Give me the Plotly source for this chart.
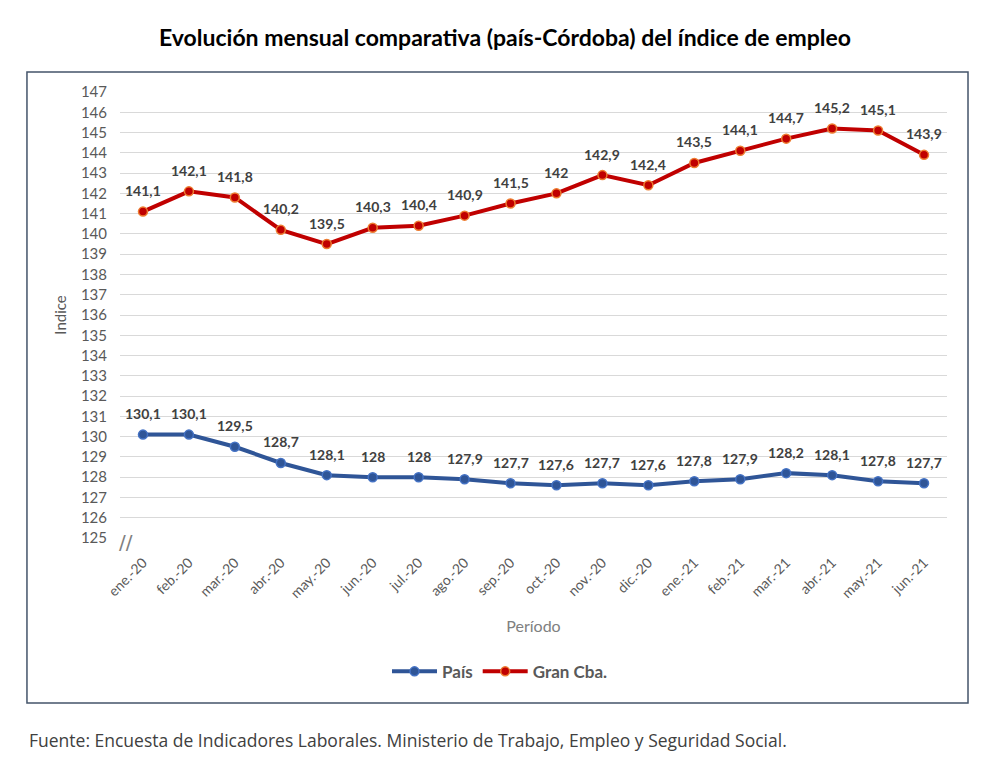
import plotly.graph_objects as go

categories = ["ene.-20", "feb.-20", "mar.-20", "abr.-20", "may.-20", "jun.-20", "jul.-20",
              "ago.-20", "sep.-20", "oct.-20", "nov.-20", "dic.-20", "ene.-21", "feb.-21",
              "mar.-21", "abr.-21", "may.-21", "jun.-21"]
pais = [130.1, 130.1, 129.5, 128.7, 128.1, 128, 128, 127.9, 127.7, 127.6, 127.7, 127.6,
        127.8, 127.9, 128.2, 128.1, 127.8, 127.7]
gran_cba = [141.1, 142.1, 141.8, 140.2, 139.5, 140.3, 140.4, 140.9, 141.5, 142, 142.9, 142.4,
            143.5, 144.1, 144.7, 145.2, 145.1, 143.9]
y_ticks = list(range(125, 148))


def fmt(v):
    s = ("%g" % v)
    return s.replace(".", ",")


FONT = "Lato"
fig = go.Figure()
fig.add_trace(go.Scatter(
    x=categories, y=pais, name="País", mode="lines+markers",
    line=dict(color="#2F5597", width=4),
    marker=dict(size=9, color="#2F5597", line=dict(color="#4472C4", width=1.5)),
))
fig.add_trace(go.Scatter(
    x=categories, y=gran_cba, name="Gran Cba.", mode="lines+markers",
    line=dict(color="#C00000", width=4),
    marker=dict(size=9, color="#C00000", line=dict(color="#ED7D31", width=1.5)),
))

annotations = []
for series in (pais, gran_cba):
    for c, v in zip(categories, series):
        annotations.append(dict(x=c, y=v, xref="x", yref="y", text=fmt(v), showarrow=False,
                                yshift=21, font=dict(family=FONT, size=14, color="#404040",
                                                     weight="bold")))
# axis break mark
annotations.append(dict(x=0, y=125, xref="paper", yref="y", text="//", showarrow=False,
                        xshift=-3, yshift=-4, font=dict(family="DejaVu Sans", size=20, color="#808080")))
# footer
annotations.append(dict(x=0, y=0, xref="paper", yref="paper", xanchor="left", yanchor="middle",
                        xshift=-93, yshift=-202, showarrow=False,
                        text="Fuente: Encuesta de Indicadores Laborales. Ministerio de Trabajo, Empleo y Seguridad Social.",
                        font=dict(family="Open Sans", size=17.5, color="#404040")))

fig.update_layout(
    width=1000, height=769,
    margin=dict(l=120, r=53, t=92, b=231),
    paper_bgcolor="white", plot_bgcolor="white",
    title=dict(text="<b>Evolución mensual comparativa (país-Córdoba) del índice de empleo</b>",
               x=0.505, xanchor="center", y=0.951, yanchor="middle",
               font=dict(family=FONT, size=23, color="black")),
    font=dict(family=FONT, color="#595959"),
    showlegend=True,
    legend=dict(orientation="h", x=0.4595, xanchor="center", y=-0.30, yanchor="middle",
                font=dict(family=FONT, size=17, color="#595959", weight="bold"),
                itemwidth=45, bgcolor="rgba(0,0,0,0)"),
    annotations=annotations,
    shapes=[dict(type="rect", xref="paper", yref="paper", x0=-0.1125, x1=1.0254,
                 y0=-0.370, y1=1.0448, line=dict(color="#44546A", width=1.5),
                 fillcolor="rgba(0,0,0,0)", layer="below")],
)
fig.update_xaxes(
    type="category", range=[-0.5, len(categories) - 0.5], tickangle=-45,
    tickfont=dict(family=FONT, size=14, color="#595959"),
    showgrid=False, showline=False, ticks="outside", ticklen=10, tickcolor="rgba(0,0,0,0)",
    title=dict(text="Período", font=dict(family=FONT, size=16, color="#808080"), standoff=20),
)
fig.update_yaxes(
    range=[125, 147], tickvals=y_ticks, ticktext=[str(t) for t in y_ticks],
    tickfont=dict(family=FONT, size=15, color="#595959"),
    showgrid=True, gridcolor="#D9D9D9", gridwidth=1, zeroline=False, showline=False,
    ticklabelstandoff=12,
    title=dict(text="Indice", font=dict(family=FONT, size=15, color="#595959"), standoff=10),
)

fig.write_html("out.html")
